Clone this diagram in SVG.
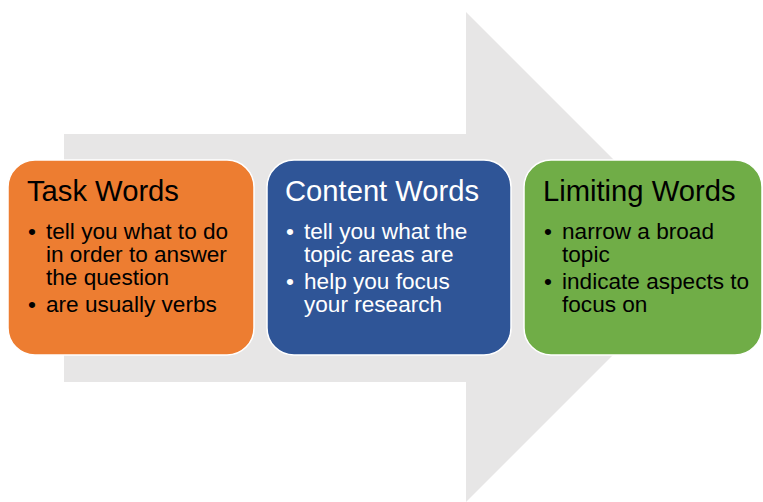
<svg xmlns="http://www.w3.org/2000/svg" width="763" height="502" viewBox="0 0 763 502">
<style>
.box{stroke:#ffffff;stroke-width:1.5}
.title{font-family:"Liberation Sans",Arial,sans-serif;font-size:29.2px}
.body{font-family:"Liberation Sans",Arial,sans-serif;font-size:22.6px}
.dark{fill:#000000}
.light{fill:#ffffff}
</style>
<rect width="763" height="502" fill="#ffffff"/>
<g id="arrow">
<polygon points="64,134 466,134 466,12 711,257 466,502 466,382 64,382" fill="#e7e6e6"/>
</g>
<g id="connectors"></g>
<g id="task-words">
<rect class="box" x="8" y="160" width="246" height="195" rx="27" fill="#ed7d31"/>
<text class="title dark" x="27" y="201">Task Words</text>
<g class="body dark">
<text x="28" y="239">•</text><text x="46" y="239">tell you what to do</text>
<text x="46" y="262">in order to answer</text>
<text x="46" y="285">the question</text>
<text x="28" y="312">•</text><text x="46" y="312">are usually verbs</text>
</g>
</g>
<g id="content-words">
<rect class="box" x="267" y="160" width="244" height="195" rx="27" fill="#2f5597"/>
<text class="title light" x="285" y="201">Content Words</text>
<g class="body light">
<text x="286" y="239">•</text><text x="304" y="239">tell you what the</text>
<text x="304" y="262">topic areas are</text>
<text x="286" y="289">•</text><text x="304" y="289">help you focus</text>
<text x="304" y="312">your research</text>
</g>
</g>
<g id="limiting-words">
<rect class="box" x="524" y="160" width="238" height="195" rx="27" fill="#70ad47"/>
<text class="title dark" x="543" y="201">Limiting Words</text>
<g class="body dark">
<text x="544" y="239">•</text><text x="562" y="239">narrow a broad</text>
<text x="562" y="262">topic</text>
<text x="544" y="289">•</text><text x="562" y="289">indicate aspects to</text>
<text x="562" y="312">focus on</text>
</g>
</g>
</svg>
